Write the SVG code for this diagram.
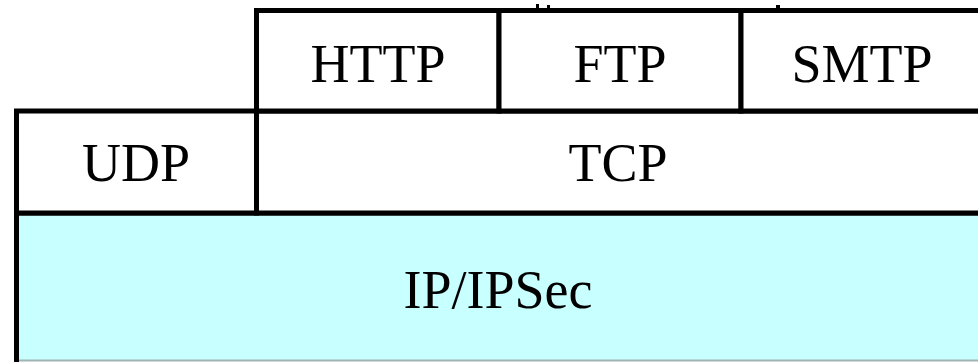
<svg xmlns="http://www.w3.org/2000/svg" width="978" height="362" viewBox="0 0 978 362">
<style>
.cell{fill:#ffffff;stroke:#000000;stroke-width:5}
.lbl{font-family:"Liberation Serif","Times New Roman",serif;font-size:54px;fill:#000000;text-anchor:middle}
</style>
<rect x="0" y="0" width="978" height="362" fill="#ffffff"/>
<g id="ip">
<rect x="16.5" y="213" width="970" height="147" fill="#c8ffff"/>
<line x1="14" y1="360.5" x2="978" y2="360.5" stroke="#a0b4b4" stroke-width="2"/>
<path d="M16.5 362 V213 H978" fill="none" stroke="#000000" stroke-width="5"/>
<text class="lbl" x="498" y="308">IP/IPSec</text>
</g>
<g id="udp">
<rect class="cell" x="16.5" y="111" width="240" height="102"/>
<text class="lbl" x="136" y="181">UDP</text>
</g>
<g id="tcp">
<rect class="cell" x="256.5" y="111" width="730" height="102"/>
<text class="lbl" x="618" y="181">TCP</text>
</g>
<g id="http">
<rect class="cell" x="256.5" y="10.5" width="242.5" height="100.5"/>
<text class="lbl" x="378" y="82">HTTP</text>
</g>
<g id="ftp">
<rect class="cell" x="499" y="10.5" width="242" height="100.5"/>
<text class="lbl" x="620" y="82">FTP</text>
</g>
<g id="smtp">
<rect class="cell" x="741" y="10.5" width="245" height="100.5"/>
<text class="lbl" x="862" y="82">SMTP</text>
</g>
<g id="connectors">
<rect x="536" y="4" width="3" height="5" fill="#000000"/>
<rect x="547" y="5" width="3" height="4" fill="#000000"/>
<rect x="776" y="5" width="4" height="4" fill="#000000"/>
</g>
</svg>
